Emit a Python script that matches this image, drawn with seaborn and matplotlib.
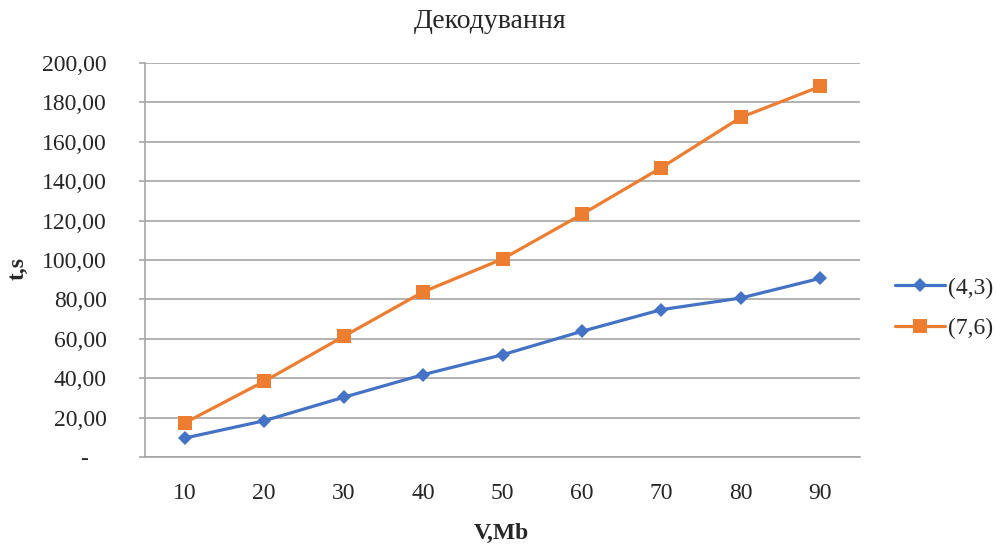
import matplotlib
matplotlib.use("Agg")
import matplotlib.pyplot as plt
import matplotlib.ticker as mticker
from matplotlib.lines import Line2D
import seaborn as sns
import pandas as pd

# Decoding time vs. data volume for two code parameters
volume_mb = [10, 20, 30, 40, 50, 60, 70, 80, 90]
time_43 = [9.6, 18.4, 30.3, 41.8, 51.9, 63.8, 74.8, 80.7, 90.7]
time_76 = [17.3, 38.4, 61.2, 83.8, 100.5, 123.2, 146.9, 172.4, 188.1]
series_names = ["(4,3)", "(7,6)"]
y_ticks = [0, 20, 40, 60, 80, 100, 120, 140, 160, 180, 200]

df = pd.DataFrame({
    "V": volume_mb * 2,
    "t": time_43 + time_76,
    "code": [series_names[0]] * len(volume_mb) + [series_names[1]] * len(volume_mb),
})

sns.set_theme(style="white")
plt.rcParams["font.family"] = ["Liberation Serif", "DejaVu Serif"]

fig = plt.figure(figsize=(9.96, 5.44), dpi=100)
ax = fig.add_axes([145 / 996, 87 / 544, 715 / 996, 394 / 544])

colors = {"(4,3)": "#4472C4", "(7,6)": "#ED7D31"}
sns.lineplot(data=df, x="V", y="t", hue="code", style="code",
             markers={"(4,3)": "D", "(7,6)": "s"}, dashes=False,
             palette=colors, linewidth=2.3, markeredgewidth=0,
             ax=ax, legend=False)
for line, ms in zip(ax.lines, [7, 9.5]):
    line.set_markersize(ms)

ax.set_xlim(5, 95)
ax.set_ylim(0, 200)
ax.set_xticks(volume_mb)
ax.set_yticks(y_ticks)

def fmt(v, pos):
    if abs(v) < 1e-9:
        return "-   "
    return f"{v:.2f}".replace(".", ",")

ax.yaxis.set_major_formatter(mticker.FuncFormatter(fmt))
ax.grid(axis="y", color="#a6a6a6", linewidth=1.2)
ax.set_axisbelow(True)
for side in ["top", "right"]:
    ax.spines[side].set_visible(False)
for side in ["left", "bottom"]:
    ax.spines[side].set_color("#a6a6a6")
    ax.spines[side].set_linewidth(1.2)

ax.tick_params(axis="y", which="major", length=4, width=1.2, color="#a6a6a6",
               direction="out", pad=23.5, labelsize=17, left=True)
ax.tick_params(axis="x", length=0, pad=19, labelsize=17)

ax.set_xlabel("")
ax.set_ylabel("")
fig.text(501 / 996, 1 - 533 / 544, "V,Mb", ha="center", va="center",
         fontsize=17, fontweight="bold")
fig.text(18 / 996, 1 - 268 / 544, "t,s", ha="center", va="center",
         rotation=90, fontsize=17, fontweight="bold")
fig.text(490 / 996, 1 - 22 / 544, "Декодування", ha="center", va="center",
         fontsize=20)

# Legend
handles = [
    Line2D([], [], color=colors["(4,3)"], marker="D", markersize=7, linewidth=2.3, markeredgewidth=0),
    Line2D([], [], color=colors["(7,6)"], marker="s", markersize=9.5, linewidth=2.3, markeredgewidth=0),
]
fig.legend(handles, series_names, loc="center left",
           bbox_to_anchor=(895 / 996, 1 - 308 / 544), frameon=False,
           fontsize=17, handlelength=2.1, handletextpad=0.15, labelspacing=0.8,
           borderaxespad=0, borderpad=0)

fig.savefig("out.png", dpi=100)
